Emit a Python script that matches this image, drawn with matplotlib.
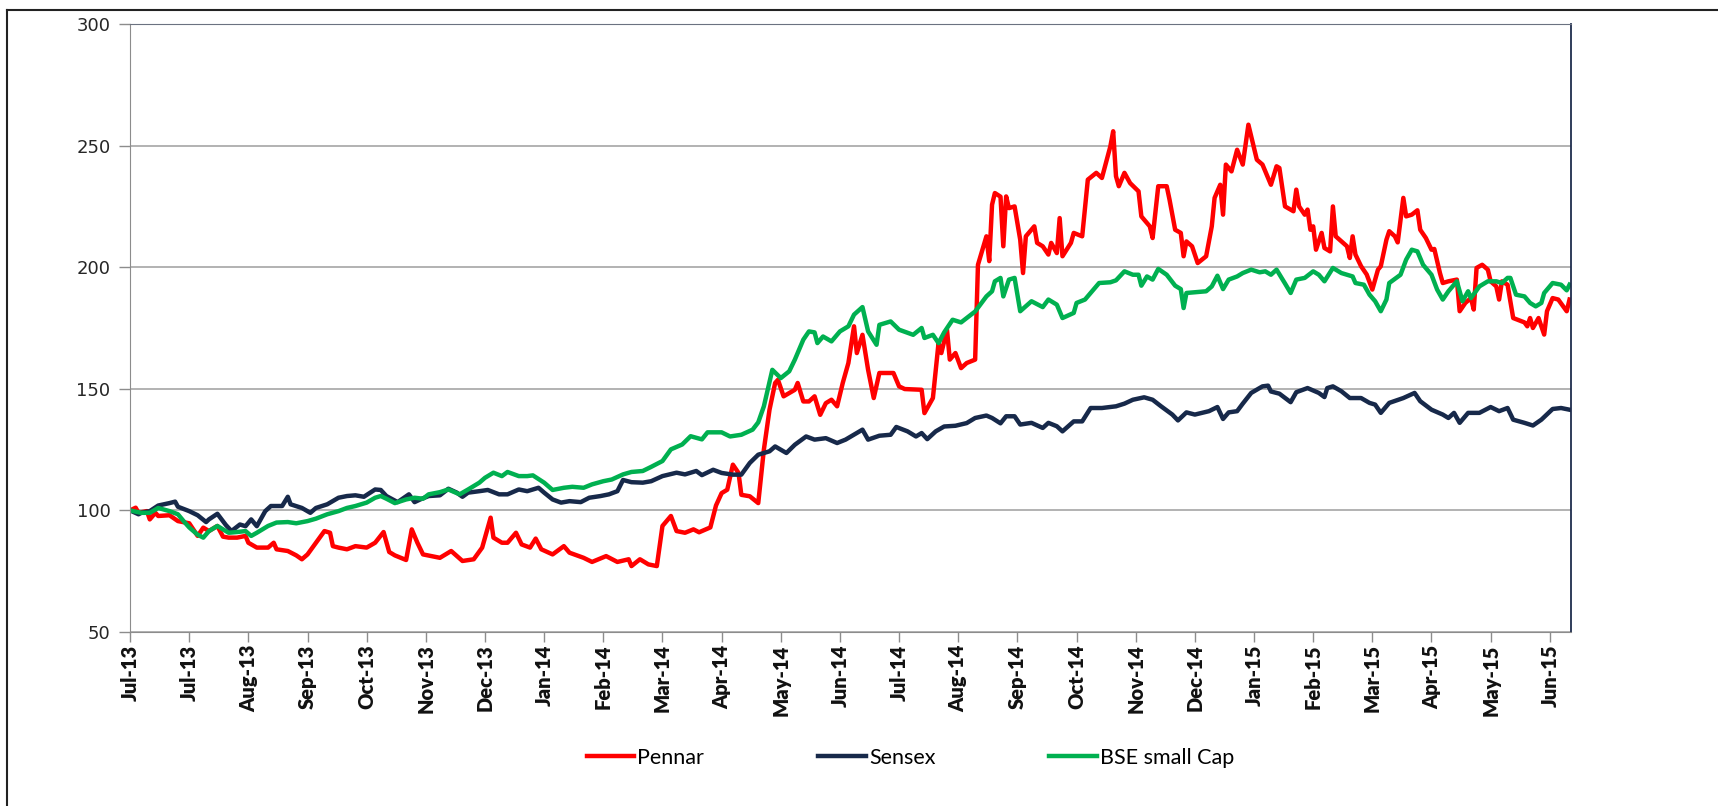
import matplotlib
matplotlib.use("Agg")
import matplotlib.pyplot as plt
from matplotlib.lines import Line2D

# trading-day index (0 = 1 Jul 2013), one month tick every 21 trading days
month_labels = ["Jul-13", "Jul-13", "Aug-13", "Sep-13", "Oct-13", "Nov-13", "Dec-13",
                "Jan-14", "Feb-14", "Mar-14", "Apr-14", "May-14", "Jun-14", "Jul-14",
                "Aug-14", "Sep-14", "Oct-14", "Nov-14", "Dec-14", "Jan-15", "Feb-15",
                "Mar-15", "Apr-15", "May-15", "Jun-15"]
days_per_tick = 21

pennar_day = [0, 2, 3, 6, 7, 9, 10, 14, 17, 21, 24, 26, 28, 31, 33, 35, 38, 41, 42, 45,
              49, 51, 52, 56, 59, 61, 63, 66, 69, 71, 72, 74, 77, 80, 84, 87, 90, 92, 94, 98,
              100, 102, 104, 110, 114, 118, 122, 125, 128, 129, 132, 134, 137, 139, 142, 144, 146, 150, 154, 156,
              161, 164, 169, 173, 177, 178, 181, 184, 187, 189, 192, 194, 197, 200, 202, 206, 208, 210, 212, 214,
              216, 217, 220, 223, 225, 227, 229, 230, 232, 236, 237, 239, 241, 243, 245, 247, 249, 251, 253, 255,
              257, 258, 260, 262, 264, 266, 271, 273, 275, 281, 282, 285, 287, 288, 290, 291, 293, 295, 297, 300,
              301, 304, 305, 306, 307, 309, 310, 311, 312, 314, 316, 317, 318, 320, 321, 322, 324, 326, 327, 329,
              330, 331, 334, 335, 338, 340, 343, 345, 348, 349, 350, 351, 353, 355, 358, 359, 362, 363, 365, 368,
              369, 371, 373, 374, 375, 377, 379, 382, 384, 385, 387, 388, 389, 391, 393, 395, 397, 398, 400, 402,
              405, 407, 408, 410, 413, 414, 415, 417, 418, 419, 420, 421, 423, 424, 426, 427, 428, 432, 433, 434,
              435, 437, 439, 441, 443, 444, 446, 447, 449, 450, 452, 453, 455, 457, 458, 460, 462, 463, 465, 466,
              468, 471, 472, 474, 476, 477, 478, 480, 482, 483, 485, 486, 487, 489, 491, 495, 496, 497, 498, 500,
              502, 503, 505, 507, 510, 511]
pennar = [100, 101.1, 99, 99.7, 96.3, 99, 97.7, 98, 95.6, 94.7, 89.5, 92.9, 91.5, 93.6, 89.2, 88.8, 88.8, 89.5, 86.7, 84.7,
          84.7, 86.7, 84, 83.3, 81.5, 79.9, 81.9, 86.7, 91.5, 90.8, 85.3, 84.7, 84, 85.3, 84.7, 86.7, 91.1, 82.9, 81.5, 79.6,
          92.2, 86.7, 81.9, 80.5, 83.3, 79.2, 79.9, 84.7, 97, 88.8, 86.7, 86.7, 90.8, 86, 84.7, 88.4, 84, 81.9, 85.3, 82.6,
          80.5, 78.8, 81.2, 78.8, 79.9, 77.1, 79.9, 77.8, 77.1, 93.6, 97.7, 91.5, 90.8, 92.2, 91, 93, 102, 107.1, 108.5, 118.8,
          115.4, 106.4, 105.8, 103, 125, 141.4, 152.4, 153.7, 146.9, 149.6, 152.4, 144.8, 144.8, 146.9, 139.3, 144.1, 145.5, 142.8, 152.4, 160.6,
          175.7, 164.7, 172.2, 157.8, 146.2, 156.5, 156.5, 151, 149.9, 149.6, 140, 146.2, 168.8, 164.7, 174.3, 162, 164.7, 158.5, 160.6, 162,
          201, 212.7, 202.5, 225.7, 230.5, 229, 208.6, 229.1, 224.3, 225, 211.3, 197.6, 212.7, 215.4, 216.8, 210, 208.6, 205.2, 210, 205.8,
          220.2, 204.5, 210, 214.1, 212.7, 236, 238.8, 236.7, 249.7, 255.9, 237.4, 233.3, 238.8, 234.6, 231.2, 220.9, 216.8, 212, 233.3, 233.3,
          227.8, 215.4, 214.1, 204.5, 210.6, 208.6, 201.7, 204.5, 216.8, 228.5, 233.9, 221.6, 242.2, 239.4, 248.3, 242.2, 258.6, 253.8, 244.2, 242.2,
          233.9, 241.5, 240.8, 225, 223, 231.9, 225, 221.6, 223.7, 215.4, 216.8, 207.2, 214.1, 207.9, 206.5, 225, 212.7, 208.6, 203.8, 212.7,
          205.2, 200.4, 197, 190.8, 199, 200.4, 211.3, 214.8, 212.7, 210.2, 228.5, 220.9, 221.6, 223.4, 215.4, 212, 207.2, 207.5, 197.6, 193.5,
          194.2, 194.9, 181.9, 185.3, 187.3, 182.6, 199.7, 201, 199, 194.2, 192.1, 186.7, 194.2, 192.8, 179.1, 177.3, 175.7, 179.1, 175, 179.1,
          172.3, 181.9, 187.3, 186.7, 181.9, 186.7]

sensex_day = [0, 3, 4, 7, 10, 14, 16, 17, 21, 24, 27, 28, 31, 34, 36, 39, 41, 43, 45, 48,
              50, 54, 56, 57, 61, 64, 66, 70, 74, 77, 80, 83, 87, 89, 91, 95, 99, 101, 103, 106,
              110, 113, 116, 118, 120, 124, 127, 131, 134, 138, 141, 145, 147, 150, 153, 156, 160, 163, 167, 170,
              173, 175, 178, 182, 185, 189, 194, 197, 201, 203, 207, 210, 214, 217, 220, 223, 227, 229, 233, 236,
              240, 243, 247, 251, 254, 258, 260, 262, 266, 270, 272, 276, 279, 281, 283, 286, 289, 293, 297, 300,
              304, 306, 309, 311, 314, 316, 320, 324, 326, 329, 331, 335, 338, 341, 345, 350, 353, 356, 360, 363,
              366, 370, 372, 375, 378, 383, 386, 388, 390, 393, 395, 398, 402, 404, 405, 408, 412, 414, 418, 422,
              424, 425, 427, 430, 433, 435, 437, 440, 442, 444, 447, 452, 456, 458, 462, 466, 468, 470, 472, 475,
              479, 483, 486, 489, 491, 495, 498, 501, 505, 508, 511]
sensex = [100, 98.4, 99, 99.7, 102, 103, 103.6, 101.5, 99.7, 98, 95.2, 96.3, 98.6, 94, 91.5, 94.2, 93.5, 96.3, 93.5, 99.7,
          101.8, 101.8, 105.6, 102.5, 101, 99, 101, 102.5, 105.2, 105.9, 106.2, 105.6, 108.6, 108.4, 105.9, 103.4, 106.6, 103.4, 104.5, 105.9,
          106.2, 108.9, 107.3, 105.6, 107.3, 107.9, 108.4, 106.6, 106.6, 108.6, 107.9, 109.3, 107.3, 104.5, 103.2, 103.8, 103.4, 105.2, 105.9, 106.6,
          107.9, 112.5, 111.6, 111.4, 112, 114.1, 115.5, 114.8, 116.2, 114.5, 116.7, 115.4, 114.7, 114.7, 119.5, 122.9, 124.3, 126.3, 123.6, 127,
          130.4, 129.1, 129.7, 127.7, 129.1, 131.8, 133.2, 129.1, 130.7, 131.1, 134.3, 132.5, 130.4, 131.8, 129.3, 132.5, 134.5, 134.8, 135.9, 138,
          139, 138, 135.8, 138.7, 138.7, 135.3, 136, 133.9, 136, 134.6, 132.5, 136.6, 136.6, 142.1, 142.1, 142.8, 143.9, 145.5, 146.5, 145.5,
          142.8, 139.4, 137, 140.3, 139.4, 140.8, 142.5, 137.6, 140.3, 140.8, 143.9, 148.3, 151, 151.3, 148.9, 148, 144.5, 148.6, 150.3, 148.3,
          146.6, 150.3, 151, 149, 146.2, 146.2, 146.2, 144.2, 143.5, 140.1, 144.2, 146.2, 148.3, 144.9, 141.4, 139.4, 138, 140.1, 136, 140.1,
          140.1, 142.5, 140.8, 142.1, 137.3, 136, 134.9, 137.3, 141.7, 142.1, 141.4]

smallcap_day = [0, 4, 7, 10, 14, 17, 19, 21, 24, 26, 28, 31, 35, 38, 41, 43, 45, 49, 52, 56,
                59, 63, 66, 70, 74, 77, 80, 84, 87, 89, 91, 94, 98, 101, 104, 106, 110, 113, 117, 120,
                124, 126, 129, 132, 134, 138, 141, 143, 147, 150, 154, 157, 161, 164, 168, 171, 175, 178, 182, 185,
                189, 192, 196, 199, 203, 205, 210, 213, 217, 221, 223, 225, 228, 231, 234, 236, 239, 241, 243, 244,
                246, 249, 252, 255, 257, 260, 262, 265, 266, 270, 273, 278, 281, 282, 285, 287, 289, 292, 295, 300,
                304, 306, 307, 309, 310, 312, 314, 316, 320, 324, 326, 329, 331, 335, 336, 339, 341, 344, 348, 350,
                353, 356, 358, 359, 361, 363, 365, 368, 371, 373, 374, 375, 378, 382, 384, 386, 388, 390, 393, 395,
                398, 401, 403, 405, 407, 410, 412, 414, 417, 420, 422, 424, 427, 430, 434, 435, 438, 440, 442, 444,
                446, 447, 451, 453, 455, 457, 459, 462, 464, 466, 468, 471, 473, 475, 476, 479, 482, 485, 487, 489,
                490, 492, 495, 497, 499, 501, 502, 505, 508, 510, 511]
smallcap = [100, 99, 99, 101, 99.7, 98.4, 95.6, 93, 90, 88.8, 91.5, 93.6, 90.8, 91.1, 91.5, 89.5, 90.8, 93.6, 95, 95.2,
            94.7, 95.6, 96.6, 98.4, 99.7, 101, 101.8, 103.2, 105.2, 105.9, 104.8, 103, 104.5, 105.2, 104.8, 106.6, 107.5, 108.6, 106.6, 108.6,
            111.4, 113.4, 115.5, 114.1, 115.8, 114.1, 114.1, 114.4, 111.4, 108.4, 109.3, 109.7, 109.3, 110.7, 112, 112.7, 114.8, 115.8, 116.2, 117.9,
            120.3, 125.1, 127.1, 130.5, 129.2, 132.1, 132.1, 130.4, 131.1, 133.2, 136.2, 142.8, 157.8, 154.4, 157.2, 162, 170.2, 173.6, 173.2, 168.8,
            171.5, 169.5, 173.6, 175.7, 180.5, 183.6, 173.6, 168.1, 176.3, 177.7, 174.3, 172.2, 175, 170.9, 172.2, 168.8, 173.2, 178.4, 177.3, 181.8,
            188, 190.1, 194.2, 195.6, 188, 194.9, 195.6, 181.9, 186, 183.6, 186.7, 184.6, 179.1, 181.2, 185.3, 186.7, 189.4, 193.5, 193.8, 194.6,
            198.3, 196.9, 196.9, 192.4, 196.2, 194.9, 199.3, 196.9, 192.4, 191, 183.2, 189.4, 189.7, 190.1, 192.1, 196.5, 191, 194.9, 196.2, 197.6,
            199, 197.9, 198.3, 196.9, 199, 193.3, 189.4, 194.9, 195.6, 198.3, 196.9, 194.2, 199.7, 197.6, 196.2, 193.5, 192.8, 188.7, 186, 181.9,
            186.7, 193.5, 196.9, 203.1, 207.2, 206.5, 201, 196.9, 190.8, 186.7, 190.1, 194.2, 186, 190.1, 187.3, 192.1, 194.2, 194.2, 193.5, 195.6,
            195.6, 188.7, 188, 185.3, 183.9, 185.3, 189.4, 193.5, 192.8, 190.5, 192.8]

narrow = ["Lato", "DejaVu Sans"]

fig = plt.figure(figsize=(17.18, 8.06), dpi=100)
ax = fig.add_axes([0.0757, 0.2159, 0.8387, 0.7543])

ax.plot(pennar_day, pennar, color="#ff0000", lw=3.2, label="Pennar", solid_joinstyle="round")
ax.plot(sensex_day, sensex, color="#17294a", lw=3.2, label="Sensex", solid_joinstyle="round")
ax.plot(smallcap_day, smallcap, color="#00b050", lw=3.2, label="BSE small Cap", solid_joinstyle="round")

ax.set_xlim(0, 511.5)
ax.set_ylim(50, 300)
ax.set_yticks([50, 100, 150, 200, 250, 300])
ax.yaxis.grid(True, color="#a6a6a6", lw=1.2)
ax.set_axisbelow(True)

ticks = [k * days_per_tick for k in range(len(month_labels))]
ax.set_xticks(ticks)
ax.set_xticklabels(month_labels, rotation=90, fontsize=14.5, fontweight="heavy",
                   family=narrow, color="#111111")
ax.tick_params(axis="x", length=7, width=1, color="#8c8c8c", pad=2)
ax.tick_params(axis="y", length=8, width=1, color="#8c8c8c", pad=6,
               labelsize=13, labelcolor="#262626")

for side in ("left", "bottom"):
    ax.spines[side].set_color("#8c8c8c")
ax.spines["top"].set_color("#6b7280")
ax.spines["right"].set_color("#1f2d4d")
ax.spines["right"].set_linewidth(1.3)

leg = fig.legend(loc="center", bbox_to_anchor=(0.53, 0.06), ncol=3, frameon=False,
                 handlelength=2.2, handletextpad=0.15, columnspacing=5.3,
                 prop={"family": narrow, "size": 15.5})

# outer chart border (top and left visible)
fig.add_artist(Line2D([0.004, 1.0], [0.9876, 0.9876], color="#222222", lw=1.5))
fig.add_artist(Line2D([0.004, 0.004], [0.0, 0.9876], color="#222222", lw=1.5))

fig.savefig("out.png", dpi=100)
